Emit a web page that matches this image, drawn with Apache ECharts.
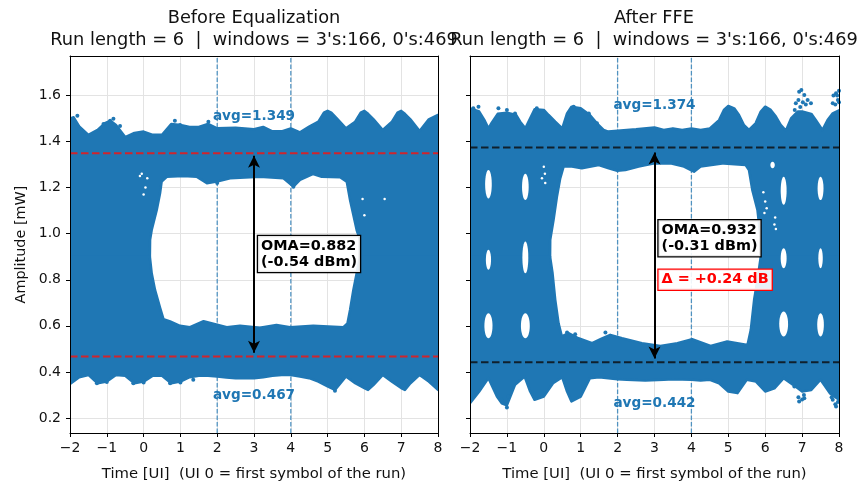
<!DOCTYPE html>
<html>
<head>
<meta charset="utf-8">
<title>Eye diagrams</title>
<style>
  html, body { margin: 0; padding: 0; background: #fff; }
  #main { width: 861px; height: 481px; }
</style>
<script src="https://cdn.jsdelivr.net/npm/echarts@6/dist/echarts.min.js"></script>
</head>
<body>
<div id="main"></div>
<script>
// tick labels
const xTicks = [-2, -1, 0, 1, 2, 3, 4, 5, 6, 7, 8]
const yTicks = [0.2, 0.4, 0.6, 0.8, 1.0, 1.2, 1.4, 1.6]
const windowMarks = [2, 4]

// [time UI, amplitude mW]
const beforeOuterTop = [[-2,1.50],[-1.9,1.505],[-1.75,1.465],[-1.5,1.429],[-1.25,1.45],[-1.05,1.48],[-0.9,1.49],[-0.75,1.472],[-0.5,1.419],[-0.25,1.437],[0,1.443],[0.25,1.429],[0.5,1.429],[0.75,1.476],[1,1.472],[1.25,1.463],[1.5,1.463],[1.75,1.476],[2,1.457],[2.5,1.46],[3,1.453],[3.25,1.463],[3.5,1.444],[3.75,1.444],[4,1.457],[4.25,1.44],[4.5,1.465],[4.75,1.486],[4.9,1.525],[5,1.533],[5.1,1.525],[5.25,1.50],[5.5,1.457],[5.75,1.486],[5.9,1.525],[6,1.533],[6.1,1.52],[6.25,1.496],[6.5,1.45],[6.75,1.486],[6.9,1.525],[7,1.533],[7.1,1.52],[7.25,1.496],[7.5,1.445],[7.75,1.496],[8,1.515]]
const beforeOuterBottom = [[-2,0.348],[-1.75,0.377],[-1.5,0.387],[-1.25,0.351],[-1,0.358],[-0.75,0.387],[-0.5,0.383],[-0.25,0.351],[0,0.358],[0.25,0.384],[0.5,0.383],[0.75,0.351],[1,0.358],[1.25,0.377],[1.5,0.383],[1.75,0.383],[2,0.38],[2.25,0.376],[2.5,0.373],[3,0.373],[3.25,0.377],[3.5,0.383],[3.75,0.387],[4,0.387],[4.25,0.38],[4.5,0.373],[4.75,0.358],[5,0.337],[5.2,0.322],[5.5,0.38],[5.75,0.351],[6,0.33],[6.1,0.322],[6.25,0.344],[6.5,0.387],[6.75,0.358],[7,0.33],[7.1,0.322],[7.25,0.351],[7.5,0.387],[7.75,0.358],[8,0.322]]
const beforeEyeTop = [[0.17,0.9],[0.176,0.973],[0.22,1.016],[0.357,1.103],[0.447,1.175],[0.49,1.226],[0.63,1.247],[1.08,1.25],[1.44,1.247],[1.72,1.219],[1.99,1.226],[2.35,1.24],[3.16,1.247],[3.8,1.24],[4.07,1.204],[4.25,1.233],[4.61,1.259],[4.84,1.247],[5.34,1.245],[5.52,1.226],[5.61,1.146],[5.79,1.016],[5.88,0.973],[5.88,0.9]]
const beforeEyeBottom = [[0.17,0.9],[0.22,0.828],[0.31,0.756],[0.45,0.677],[0.54,0.629],[0.72,0.619],[0.99,0.6],[1.26,0.594],[1.63,0.62],[2.26,0.594],[2.62,0.6],[3.16,0.592],[3.61,0.604],[3.98,0.594],[4.61,0.6],[5.43,0.594],[5.54,0.611],[5.61,0.669],[5.70,0.756],[5.79,0.828],[5.88,0.9]]

const afterOuterTop = [[-2,1.544],[-1.75,1.53],[-1.6,1.49],[-1.5,1.457],[-1.41,1.482],[-1.25,1.52],[-1,1.525],[-0.75,1.515],[-0.64,1.486],[-0.5,1.457],[-0.415,1.486],[-0.25,1.54],[0,1.537],[0.13,1.515],[0.31,1.486],[0.5,1.457],[0.63,1.522],[0.75,1.551],[1,1.544],[1.25,1.515],[1.44,1.479],[1.62,1.45],[1.75,1.443],[2,1.447],[2.25,1.45],[2.5,1.453],[3,1.461],[3.25,1.45],[3.5,1.457],[3.75,1.45],[4,1.457],[4.25,1.45],[4.5,1.457],[4.75,1.493],[4.88,1.537],[5,1.554],[5.16,1.544],[5.29,1.515],[5.42,1.472],[5.56,1.45],[5.74,1.479],[5.88,1.53],[6,1.551],[6.15,1.537],[6.29,1.508],[6.42,1.472],[6.56,1.447],[6.7,1.5],[6.88,1.53],[7,1.53],[7.25,1.52],[7.37,1.493],[7.55,1.45],[7.69,1.493],[7.83,1.522],[8,1.535]]
const afterOuterBottom = [[-2,0.264],[-1.75,0.315],[-1.5,0.373],[-1.27,0.293],[-1.14,0.264],[-1,0.255],[-0.78,0.344],[-0.52,0.38],[-0.37,0.315],[-0.25,0.279],[0,0.293],[0.25,0.351],[0.5,0.377],[0.63,0.315],[0.75,0.272],[1,0.293],[1.25,0.373],[1.5,0.377],[1.75,0.373],[2,0.368],[2.25,0.366],[2.75,0.363],[3.25,0.366],[3.5,0.368],[4,0.366],[4.25,0.363],[4.5,0.366],[4.75,0.351],[5,0.315],[5.25,0.308],[5.5,0.366],[5.75,0.358],[6,0.315],[6.25,0.329],[6.5,0.373],[6.75,0.345],[7,0.315],[7.25,0.322],[7.5,0.366],[7.75,0.308],[8,0.279]]
const afterEyeTop = [[0.17,0.9],[0.174,0.973],[0.264,1.06],[0.355,1.16],[0.445,1.24],[0.536,1.291],[0.76,1.291],[1.03,1.284],[1.49,1.298],[1.76,1.284],[1.99,1.273],[2.21,1.276],[2.57,1.291],[3,1.305],[3.43,1.305],[3.8,1.291],[4.07,1.269],[4.25,1.291],[4.88,1.305],[5.47,1.298],[5.56,1.276],[5.65,1.19],[5.79,1.103],[5.88,0.973],[5.88,0.9]]
const afterEyeBottom = [[0.17,0.9],[0.237,0.828],[0.31,0.713],[0.40,0.611],[0.49,0.554],[0.67,0.568],[0.94,0.546],[1.31,0.525],[1.58,0.546],[1.8,0.561],[2.12,0.546],[2.66,0.525],[3.16,0.513],[3.62,0.525],[4.02,0.542],[4.52,0.513],[4.97,0.532],[5.52,0.517],[5.61,0.583],[5.70,0.713],[5.79,0.8],[5.88,0.9]]

// white gaps inside the right eye: [time, low, high, half width]
const afterGaps = [[-1.5,1.153,1.276,0.09],[-0.5,1.146,1.26,0.09],[-1.5,0.843,0.93,0.07],[-0.5,0.828,0.966,0.08],[-1.5,0.546,0.655,0.11],[-0.5,0.546,0.655,0.12],[6.5,1.125,1.247,0.08],[7.5,1.146,1.247,0.08],[6.2,1.284,1.312,0.06],[6.5,0.85,0.937,0.08],[7.5,0.85,0.937,0.06],[6.5,0.554,0.662,0.12],[7.5,0.554,0.655,0.09]]
const afterSpecks = [[0,1.29],[0.03,1.26],[-0.05,1.24],[0.04,1.22],[5.95,1.18],[6.0,1.14],[6.04,1.11],[5.98,1.09],[6.27,1.07],[6.25,1.04],[6.29,1.02]]
const beforeSpecks = [[-0.1,1.25],[-0.05,1.26],[0.1,1.24],[0.05,1.2],[0.0,1.17],[5.95,1.15],[6.0,1.08],[6.55,1.15]]

// stray samples around the band edges
const beforeStray = [[-1.91,1.496],[-1.8,1.512],[-1.09,1.476],[-0.91,1.49],[-0.82,1.499],[-0.73,1.457],[-0.64,1.467],[0.85,1.49],[0.99,1.472],[1.76,1.486],[-1.27,0.351],[-1.0,0.356],[-0.28,0.351],[0,0.354],[0.72,0.351],[1.0,0.354],[1.35,0.366],[4.07,1.204],[5.2,0.318],[2.0,1.22]]
const afterStray = [[6.92,1.616],[6.98,1.623],[7.06,1.602],[7.15,1.58],[7.24,1.566],[6.83,1.566],[6.8,1.537],[6.9,1.58],[7.02,1.57],[7.1,1.56],[6.95,1.55],[7.83,1.566],[7.92,1.609],[8,1.62],[7.85,1.6],[7.9,1.56],[7.97,1.58],[8,1.57],[7.95,1.6],[6.79,0.337],[6.92,0.272],[7.06,0.286],[6.9,0.29],[7,0.28],[7.05,0.30],[7.83,0.279],[7.92,0.25],[7.8,0.29],[7.9,0.26],[7.97,0.27],[-1.14,0.279],[-1.0,0.246],[-0.96,0.293],[-1.91,1.544],[-1.77,1.551],[-1.23,1.544],[-1,1.537],[-0.78,1.522],[-0.19,1.544],[0.81,1.551],[1.22,1.522],[1.44,1.479],[0.63,0.571],[0.85,0.564],[1.67,0.571]]

const beforeAvg = [1.349, 0.467]
const afterAvg = [1.374, 0.442]
const beforeArrow = [1.338, 0.483]
const afterArrow = [1.352, 0.458]

const titleA = "Before Equalization\nRun length = 6  |  windows = 3's:166, 0's:469"
const titleB = "After FFE\nRun length = 6  |  windows = 3's:166, 0's:469"

const FONT = 'DejaVu Sans'
const BLUE = '#1f77b4'
const X_RANGE = [-2, 8]
const Y_RANGE = [0.135, 1.771]

// each grid gets a set of axes: grid lines under the marks, spines and labels over them
function makeAxes(g, showY) {
  const fmt = v => String(v).replace('-', '\u2212')
  const xBase = { gridIndex: g, type: 'value', min: X_RANGE[0], max: X_RANGE[1], interval: 1 }
  const yBase = { gridIndex: g, type: 'value', min: Y_RANGE[0], max: Y_RANGE[1],
    axisTick: { customValues: yTicks }, axisLabel: { customValues: yTicks } }
  const off = { show: false }
  const spine = { show: true, onZero: false, lineStyle: { color: '#000', width: 1 } }
  const x = [
    Object.assign({}, xBase, { z: 0, axisLine: off, axisTick: off, axisLabel: off,
      splitLine: { show: true, lineStyle: { color: '#e3e3e3', width: 1 } } }),
    Object.assign({}, xBase, { z: 10, position: 'bottom', axisLine: spine, splitLine: off,
      axisTick: { show: true, length: 4, lineStyle: { color: '#000' } },
      axisLabel: { color: '#111', fontFamily: FONT, fontSize: 14, margin: 8, formatter: fmt },
      name: 'Time [UI]  (UI 0 = first symbol of the run)', nameLocation: 'middle', nameGap: 34,
      nameTextStyle: { color: '#111', fontFamily: FONT, fontSize: 14.8 } }),
    Object.assign({}, xBase, { z: 10, position: 'top', axisLine: spine, axisTick: off, axisLabel: off, splitLine: off })
  ]
  const y = [
    Object.assign({}, yBase, { z: 0, axisLine: off, axisTick: { show: false, customValues: yTicks },
      axisLabel: { show: false, customValues: yTicks },
      splitLine: { show: true, lineStyle: { color: '#e3e3e3', width: 1 } } }),
    Object.assign({}, yBase, { z: 10, position: 'left', axisLine: spine, splitLine: off,
      axisTick: { show: true, length: 4, customValues: yTicks, lineStyle: { color: '#000' } },
      axisLabel: { show: showY, customValues: yTicks, color: '#111', fontFamily: FONT, fontSize: 14, margin: 9,
        formatter: v => v.toFixed(1) } }),
    Object.assign({}, yBase, { z: 10, position: 'right', axisLine: spine, axisTick: off, axisLabel: off, splitLine: off })
  ]
  if (showY) {
    Object.assign(y[1], { name: 'Amplitude [mW]', nameLocation: 'middle', nameGap: 42,
      nameTextStyle: { color: '#111', fontFamily: FONT, fontSize: 14.4 } })
  }
  return { x, y }
}

// filled band, the outline runs through all points of the series
function band(points, xIdx, yIdx) {
  return {
    type: 'custom', xAxisIndex: xIdx, yAxisIndex: yIdx, z: 2, silent: true, clip: true,
    data: points,
    encode: { x: 0, y: 1 },
    renderItem(params, api) {
      if (params.dataIndex !== 0) return null
      return {
        type: 'polygon',
        shape: { points: points.map(p => api.coord(p)) },
        style: { fill: BLUE, stroke: BLUE, lineWidth: 2.5, lineJoin: 'round' }
      }
    }
  }
}

function gaps(list, xIdx, yIdx) {
  return {
    type: 'custom', xAxisIndex: xIdx, yAxisIndex: yIdx, z: 3, silent: true,
    data: list,
    renderItem(params, api) {
      const x = api.value(0)
      const lo = api.coord([x, api.value(1)])
      const hi = api.coord([x, api.value(2)])
      const side = api.coord([x + api.value(3), api.value(1)])
      return {
        type: 'ellipse',
        shape: { cx: lo[0], cy: (lo[1] + hi[1]) / 2, rx: side[0] - lo[0], ry: (lo[1] - hi[1]) / 2 },
        style: { fill: '#fff' }
      }
    }
  }
}

function dots(list, color, size, xIdx, yIdx, z) {
  return { type: 'scatter', xAxisIndex: xIdx, yAxisIndex: yIdx, z, silent: true,
    symbolSize: size, itemStyle: { color, opacity: 1 }, data: list }
}

function hline(y, color, xIdx, yIdx) {
  return { type: 'line', xAxisIndex: xIdx, yAxisIndex: yIdx, z: 4, silent: true, showSymbol: false,
    data: [[X_RANGE[0], y], [X_RANGE[1], y]],
    lineStyle: { color, width: 1.9, type: [7.5, 3.5] } }
}

function vline(x, xIdx, yIdx) {
  return { type: 'line', xAxisIndex: xIdx, yAxisIndex: yIdx, z: 1, silent: true, showSymbol: false,
    data: [[x, Y_RANGE[0]], [x, Y_RANGE[1]]],
    lineStyle: { color: BLUE, width: 1.3, opacity: 0.75, type: [4.5, 2] } }
}

function arrow(ends, xIdx, yIdx) {
  return { type: 'line', xAxisIndex: xIdx, yAxisIndex: yIdx, z: 5, silent: true, showSymbol: false,
    data: [],
    markLine: {
      silent: true, animation: false, symbol: ['arrow', 'arrow'], symbolSize: [9, 12],
      lineStyle: { color: '#000', width: 2, type: 'solid' }, label: { show: false },
      data: [[{ coord: [3, ends[0]] }, { coord: [3, ends[1]] }]]
    } }
}

function note(x, y, text, style, xIdx, yIdx) {
  return { type: 'scatter', xAxisIndex: xIdx, yAxisIndex: yIdx, z: 6, silent: true, symbolSize: 0,
    itemStyle: { opacity: 1 },
    data: [[x, y]],
    label: Object.assign({ show: true, formatter: text, fontFamily: FONT, fontWeight: 'bold' }, style) }
}

const avgLabel = { position: 'inside', color: BLUE, fontSize: 13.6 }
const boxLabel = { position: 'right', distance: 0, color: '#000', fontSize: 14.4, lineHeight: 16, align: 'left',
  backgroundColor: 'rgba(255,255,255,0.9)', borderColor: '#000', borderWidth: 1.3, padding: [2, 3, 2, 3] }
const deltaLabel = Object.assign({}, boxLabel, { color: '#ff0000', borderColor: '#ff0000' })
const titleStyle = { fontFamily: FONT, fontWeight: 'normal', fontSize: 17.8, lineHeight: 22, color: '#111' }

const axesA = makeAxes(0, true)
const axesB = makeAxes(1, false)

const option = {
  animation: false,
  textStyle: { fontFamily: FONT },
  title: [
    { text: titleA, left: 254, top: 7, padding: 0, textAlign: 'center', textStyle: titleStyle },
    { text: titleB, left: 654, top: 7, padding: 0, textAlign: 'center', textStyle: titleStyle }
  ],
  // keep the plot boxes where they are, the labels may reach the page edge
  grid: [
    { left: 70, top: 56, width: 368, height: 377, containLabel: false, outerBoundsMode: 'none' },
    { left: 470, top: 56, width: 369, height: 377, containLabel: false, outerBoundsMode: 'none' }
  ],
  xAxis: axesA.x.concat(axesB.x),
  yAxis: axesA.y.concat(axesB.y),
  series: [
    vline(windowMarks[0], 0, 0), vline(windowMarks[1], 0, 0),
    band(beforeOuterTop.concat([[8, 0.9]], beforeEyeTop.slice().reverse(), [[-2, 0.9]]), 0, 0),
    band(beforeEyeBottom.concat([[8, 0.9]], beforeOuterBottom.slice().reverse(), [[-2, 0.9]]), 0, 0),
    dots(beforeStray, BLUE, 4, 0, 0, 2),
    dots(beforeSpecks, '#fff', 2.5, 0, 0, 3),
    hline(beforeAvg[0], '#d0252c', 0, 0), hline(beforeAvg[1], '#d0252c', 0, 0),
    arrow(beforeArrow, 0, 0),
    note(3, 1.507, 'avg=1.349', avgLabel, 0, 0),
    note(3, 0.30, 'avg=0.467', avgLabel, 0, 0),
    note(3.11, 0.912, 'OMA=0.882\n(-0.54 dBm)', boxLabel, 0, 0),

    vline(windowMarks[0], 3, 3), vline(windowMarks[1], 3, 3),
    band(afterOuterTop.concat([[8, 0.9]], afterEyeTop.slice().reverse(), [[-2, 0.9]]), 3, 3),
    band(afterEyeBottom.concat([[8, 0.9]], afterOuterBottom.slice().reverse(), [[-2, 0.9]]), 3, 3),
    dots(afterStray, BLUE, 4, 3, 3, 2),
    gaps(afterGaps, 3, 3),
    dots(afterSpecks, '#fff', 2.5, 3, 3, 3),
    hline(afterAvg[0], '#10202c', 3, 3), hline(afterAvg[1], '#10202c', 3, 3),
    arrow(afterArrow, 3, 3),
    note(3, 1.556, 'avg=1.374', avgLabel, 3, 3),
    note(3, 0.262, 'avg=0.442', avgLabel, 3, 3),
    note(3.11, 0.98, 'OMA=0.932\n(-0.31 dBm)', boxLabel, 3, 3),
    note(3.11, 0.80, '\u0394 = +0.24 dB', deltaLabel, 3, 3)
  ]
}

const myChart = echarts.init(document.getElementById('main'))
myChart.setOption(option)
</script>
</body>
</html>
